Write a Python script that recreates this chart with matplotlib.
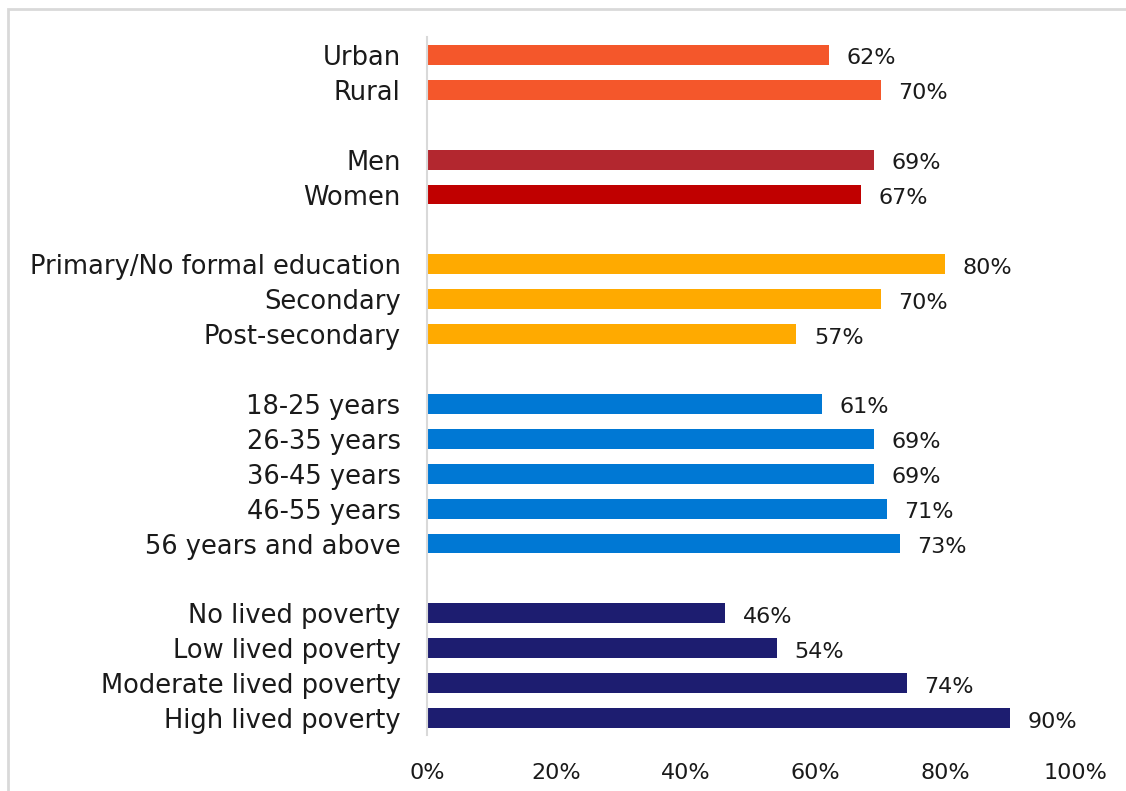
import matplotlib
matplotlib.use("Agg")
import matplotlib.pyplot as plt
from matplotlib.patches import Rectangle

categories = ["Urban", "Rural", "", "Men", "Women", "",
              "Primary/No formal education", "Secondary", "Post-secondary", "",
              "18-25 years", "26-35 years", "36-45 years", "46-55 years", "56 years and above", "",
              "No lived poverty", "Low lived poverty", "Moderate lived poverty", "High lived poverty"]
values = [62, 70, None, 69, 67, None,
          80, 70, 57, None,
          61, 69, 69, 71, 73, None,
          46, 54, 74, 90]
colors = ["#F4572B", "#F4572B", None, "#B3272F", "#C00000", None,
          "#FFAA00", "#FFAA00", "#FFAA00", None,
          "#0078D4", "#0078D4", "#0078D4", "#0078D4", "#0078D4", None,
          "#1D1D70", "#1D1D70", "#1D1D70", "#1D1D70"]
xticks = [0, 20, 40, 60, 80, 100]
xticklabels = ["0%", "20%", "40%", "60%", "80%", "100%"]

plt.rcParams['font.family'] = ['DejaVu Sans']

W, H = 1126, 791
fig = plt.figure(figsize=(W / 100, H / 100), dpi=100)
fig.patches.append(Rectangle((8 / W, -0.1), 1.2, 1 - 8.5 / H + 0.1, transform=fig.transFigure,
                             fill=False, edgecolor="#D9D9D9", linewidth=2))

ax = fig.add_axes([427 / W, 1 - 735.5 / H, (1075 - 427) / W, (735.5 - 37.5) / H])
ys = list(range(len(categories)))
for y, v, c in zip(ys, values, colors):
    if v is None:
        continue
    ax.barh(y, v, height=0.57, color=c)
    ax.text(v + 2.7, y + 0.1, f"{v}%", va="center", ha="left", fontsize=16, color="#1a1a1a")

ax.set_ylim(len(categories) - 0.5, -0.5)
ax.set_xlim(0, 100)
ax.set_yticks(ys)
ax.set_yticklabels(categories, fontsize=18.5, color="#1a1a1a")
ax.set_xticks(xticks)
ax.set_xticklabels(xticklabels, fontsize=16, color="#1a1a1a")
ax.tick_params(axis="y", length=0, pad=19)
ax.tick_params(axis="x", length=0, pad=20)
for s in ["top", "right", "bottom"]:
    ax.spines[s].set_visible(False)
ax.spines["left"].set_color("#D9D9D9")
ax.spines["left"].set_linewidth(1.5)

fig.savefig("out.png", dpi=100)
